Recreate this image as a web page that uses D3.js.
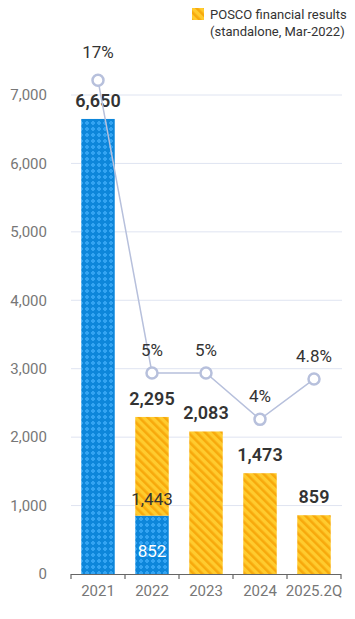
<!DOCTYPE html>
<html><head><meta charset="utf-8">
<script src="https://cdn.jsdelivr.net/npm/d3@7/dist/d3.min.js"></script>
<style>html,body{margin:0;padding:0;background:#fff;}svg{display:block;font-family:Roboto,"Noto Sans",sans-serif;}</style>
</head><body><div id="chart"></div>
<script>
const categories = ["2021","2022","2023","2024","2025.2Q"];
const totalValues = [6650, 2295, 2083, 1473, 859];
const blueValues = [6650, 852, 0, 0, 0];
const yellowValues = [0, 1443, 2083, 1473, 859];
const totalLabels = ["6,650","2,295","2,083","1,473","859"];
const marginValues = [17, 5, 5, 3.1, 4.75];
const marginLabels = ["17%","5%","5%","4%","4.8%"];
const yTicks = [0,1000,2000,3000,4000,5000,6000,7000];
const legendLines = ["POSCO financial results","(standalone, Mar-2022)"];

const W = 355, H = 619;
const svg = d3.select("#chart").append("svg").attr("width", W).attr("height", H);
const defs = svg.append("defs");

const pb = defs.append("pattern").attr("id","blueP").attr("patternUnits","userSpaceOnUse").attr("width",6).attr("height",6);
pb.append("rect").attr("width",6).attr("height",6).attr("fill","#0d86da");
pb.append("rect").attr("x",1).attr("y",2).attr("width",4).attr("height",2).attr("fill","#34a4f2");
pb.append("rect").attr("x",2).attr("y",1).attr("width",2).attr("height",4).attr("fill","#34a4f2");

const py = defs.append("pattern").attr("id","yellowP").attr("patternUnits","userSpaceOnUse").attr("width",6).attr("height",6).attr("patternTransform","rotate(-45)");
py.append("rect").attr("width",6).attr("height",6).attr("fill","#ffcb2e");
py.append("rect").attr("width",2.6).attr("height",6).attr("fill","#f7a90c");

const x = d3.scaleBand().domain(categories).range([71, 341]).paddingInner(0.38).paddingOuter(0.19);
const y = d3.scaleLinear().domain([0, 7000]).range([574, 95]);
const yp = d3.scaleLinear().domain([0, 20]).range([495, 7]);

// grid
svg.append("g").selectAll("line").data(yTicks.filter(d=>d>0)).join("line")
  .attr("x1",71).attr("x2",342).attr("y1",d=>y(d)).attr("y2",d=>y(d))
  .attr("stroke","#dfe4f1").attr("stroke-width",1);

// y labels
svg.append("g").selectAll("text").data(yTicks).join("text")
  .attr("x",47).attr("y",d=>y(d)).attr("dy","0.35em").attr("text-anchor","end")
  .attr("font-size",15).attr("fill","#777").text(d=>d3.format(",")(d));

// bars
const g = svg.append("g");
categories.forEach((c,i)=>{
  if (blueValues[i] > 0) {
    g.append("rect").attr("x",x(c)).attr("width",x.bandwidth())
      .attr("y",y(blueValues[i])).attr("height",y(0)-y(blueValues[i])).attr("fill","url(#blueP)");
  }
  if (yellowValues[i] > 0) {
    const b = blueValues[i];
    g.append("rect").attr("x",x(c)).attr("width",x.bandwidth())
      .attr("y",y(b+yellowValues[i])).attr("height",y(b)-y(b+yellowValues[i])).attr("fill","url(#yellowP)");
  }
});

// x axis
const xa = svg.append("g");
xa.append("line").attr("x1",71).attr("x2",341).attr("y1",574.5).attr("y2",574.5).attr("stroke","#666").attr("stroke-width",1.2);
const bounds = [71].concat(categories.map(c=>x(c)+x.step()*(1-0.38/2)+0*0)).slice(0,5).concat([341]);
const tickXs = [71];
for (let i=1;i<categories.length;i++) tickXs.push((x(categories[i-1])+x.bandwidth()+x(categories[i]))/2);
tickXs.push(341);
xa.selectAll("line.t").data(tickXs).join("line").attr("class","t")
  .attr("x1",d=>d).attr("x2",d=>d).attr("y1",574).attr("y2",579).attr("stroke","#666").attr("stroke-width",1.2);
xa.selectAll("text").data(categories).join("text")
  .attr("x",c=>x(c)+x.bandwidth()/2).attr("y",591).attr("dy","0.35em").attr("text-anchor","middle")
  .attr("font-size",15).attr("fill","#777").text(c=>c);

// total labels
svg.append("g").selectAll("text").data(categories).join("text")
  .attr("x",c=>x(c)+x.bandwidth()/2).attr("y",(c,i)=>y(totalValues[i])-12)
  .attr("text-anchor","middle").attr("font-size",18).attr("font-weight",600).attr("fill","#333")
  .text((c,i)=>totalLabels[i]);

// inner labels 2022
svg.append("text").attr("x",x("2022")+x.bandwidth()/2).attr("y",y(blueValues[1]+yellowValues[1]*0.17)).attr("dy","0.35em")
  .attr("text-anchor","middle").attr("font-size",17).attr("fill","#333").text("1,443");
svg.append("text").attr("x",x("2022")+x.bandwidth()/2).attr("y",y(blueValues[1]*0.4)).attr("dy","0.35em")
  .attr("text-anchor","middle").attr("font-size",17).attr("fill","#fff").text("852");

// line
const cx = c=>x(c)+x.bandwidth()/2;
const line = d3.line().x((d,i)=>cx(categories[i])).y(d=>yp(d));
svg.append("path").attr("d",line(marginValues)).attr("fill","none").attr("stroke","#b7c0dc").attr("stroke-width",1.5);
svg.append("g").selectAll("circle").data(marginValues).join("circle")
  .attr("cx",(d,i)=>cx(categories[i])).attr("cy",d=>yp(d)).attr("r",5.5)
  .attr("fill","#fff").attr("stroke","#b7c0dc").attr("stroke-width",2.5);
svg.append("g").selectAll("text").data(marginValues).join("text")
  .attr("x",(d,i)=>cx(categories[i])).attr("y",(d,i)=>yp(d)-(i===0?22:17))
  .attr("text-anchor","middle").attr("font-size",17).attr("fill","#333").text((d,i)=>marginLabels[i]);

// legend
svg.append("rect").attr("x",192).attr("y",8).attr("width",12).attr("height",12).attr("fill","url(#yellowP)");
svg.append("g").selectAll("text").data(legendLines).join("text")
  .attr("x",210).attr("y",(d,i)=>14+i*17).attr("dy","0.35em").attr("font-size",13).attr("fill","#333").text(d=>d);
</script></body></html>
